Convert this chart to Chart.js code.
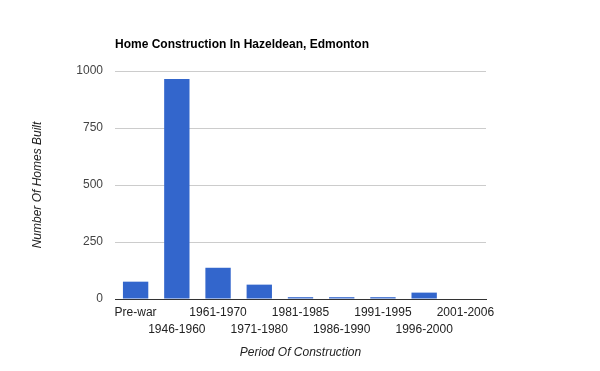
<!DOCTYPE html>
<html>
<head>
<meta charset="utf-8">
<script src="https://cdn.jsdelivr.net/npm/chart.js@4"></script>
<style>
  html, body { margin: 0; padding: 0; background: #fff; }
  #wrap { width: 600px; height: 371px; }
</style>
</head>
<body>
<div id="wrap"><canvas id="chart"></canvas></div>
<script>
// Data
const periods = ['Pre-war', '1946-1960', '1961-1970', '1971-1980', '1981-1985',
                 '1986-1990', '1991-1995', '1996-2000', '2001-2006'];
const homesBuilt = [76, 965, 137, 63, 8, 8, 8, 28, 0];
const yTicks = [0, 250, 500, 750, 1000];

const FONT = 'Arial, "Liberation Sans", sans-serif';

// staggered labels: odd categories drop to a second row
const staggered = periods.map((p, i) => i % 2 ? ['', p] : [p]);

const titlePlugin = {
  id: 'leftTitle',
  afterDraw(chart) {
    const ctx = chart.ctx;
    ctx.save();
    ctx.font = 'bold 12px ' + FONT;
    ctx.fillStyle = '#000';
    ctx.textBaseline = 'middle';
    ctx.fillText('Home Construction In Hazeldean, Edmonton', chart.chartArea.left, 45);
    ctx.restore();
  }
};

new Chart(document.getElementById('chart').getContext('2d'), {
  type: 'bar',
  data: {
    labels: staggered,
    datasets: [{
      label: 'Homes',
      data: homesBuilt,
      backgroundColor: '#3366cc',
      barPercentage: 0.615,
      categoryPercentage: 1.0,
    }]
  },
  options: {
    responsive: true, maintainAspectRatio: false, animation: false,
    layout: { padding: { top: 71, right: 114, bottom: 0, left: 0 } },
    plugins: {
      legend: { display: false },
      tooltip: { enabled: false },
    },
    scales: {
      x: {
        grid: { display: false, drawTicks: false },
        border: { color: '#333', width: 1 },
        ticks: {
          color: '#222', font: { family: FONT, size: 12, lineHeight: 1.35 },
          padding: 6, maxRotation: 0, autoSkip: false,
        },
        title: {
          display: true, text: 'Period Of Construction', color: '#222',
          font: { family: FONT, size: 12, style: 'italic' },
          padding: { top: 0, bottom: 11 },
        },
        afterFit: s => { s.height = 72; },
      },
      y: {
        min: 0, max: 1000,
        afterBuildTicks: s => { s.ticks = yTicks.map(v => ({ value: v })); },
        grid: { color: '#cccccc', drawTicks: false },
        border: { display: false },
        ticks: { color: '#444', font: { family: FONT, size: 12 }, padding: 12, callback: v => String(v) },
        title: {
          display: true, text: 'Number Of Homes Built', color: '#222',
          font: { family: FONT, size: 12, style: 'italic' },
          padding: { top: 30, bottom: 0 },
        },
        afterFit: s => { s.width = 115; },
      },
    },
  },
  plugins: [titlePlugin],
});
</script>
</body>
</html>
